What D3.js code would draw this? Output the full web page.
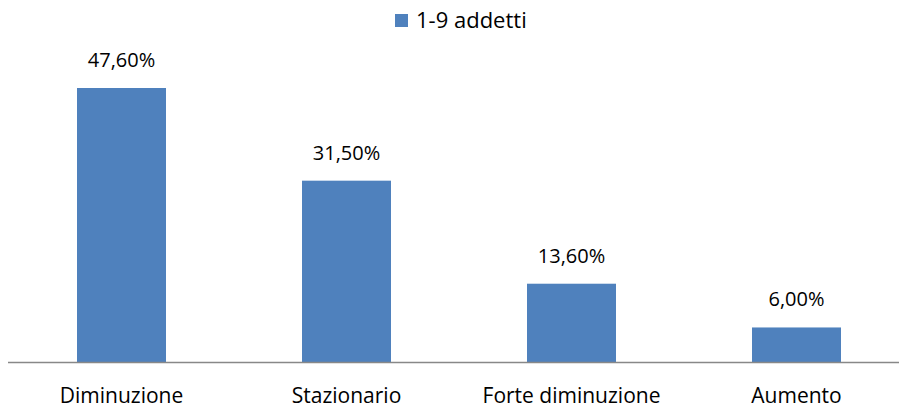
<!DOCTYPE html>
<meta charset="utf-8">
<style>
body { margin: 0; background: #fff; }
text { font-family: "Open Sans", sans-serif; fill: #000; }
</style>
<body>
<svg width="899" height="409"></svg>
<script src="https://d3js.org/d3.v7.min.js"></script>
<script>
var categories = ["Diminuzione", "Stazionario", "Forte diminuzione", "Aumento"];
var values = [47.6, 31.5, 13.6, 6.0];
var seriesName = "1-9 addetti";

var svg = d3.select("svg");

var x = d3.scaleBand()
    .domain(categories)
    .range([9, 909])
    .paddingInner(136 / 225)
    .paddingOuter(68 / 225);

var y = d3.scaleLinear()
    .domain([0, 47.6])
    .range([362, 88]);

var fmt = function(v) { return d3.format(".2f")(v).replace(".", ",") + "%"; };

svg.selectAll("rect.bar")
    .data(values)
  .enter().append("rect")
    .attr("class", "bar")
    .attr("x", function(d, i) { return x(categories[i]); })
    .attr("y", function(d) { return y(d); })
    .attr("width", x.bandwidth())
    .attr("height", function(d) { return y(0) - y(d); })
    .attr("fill", "#4f81bd");

svg.selectAll("text.val")
    .data(values)
  .enter().append("text")
    .attr("class", "val")
    .attr("x", function(d, i) { return x(categories[i]) + x.bandwidth() / 2; })
    .attr("y", function(d) { return y(d) - 21; })
    .attr("text-anchor", "middle")
    .attr("font-size", 20)
    .text(fmt);

// baseline axis
svg.append("line")
    .attr("x1", 8).attr("x2", 899)
    .attr("y1", y(0) + 0.5).attr("y2", y(0) + 0.5)
    .attr("stroke", "#888").attr("stroke-width", 1.5);

var xAxis = svg.append("g")
    .attr("transform", "translate(0," + y(0) + ")")
    .call(d3.axisBottom(x).tickSize(0).tickPadding(0));
xAxis.select(".domain").remove();
xAxis.selectAll("text")
    .attr("font-size", 21)
    .attr("dy", null)
    .attr("y", 41)
    .style("font-family", "'Open Sans', sans-serif");

// legend
var legend = svg.append("g");
legend.append("rect")
    .attr("x", 395).attr("y", 14)
    .attr("width", 13).attr("height", 13)
    .attr("fill", "#4f81bd");
legend.append("text")
    .attr("x", 416).attr("y", 28)
    .attr("font-size", 22)
    .text(seriesName);
</script>
</body>
